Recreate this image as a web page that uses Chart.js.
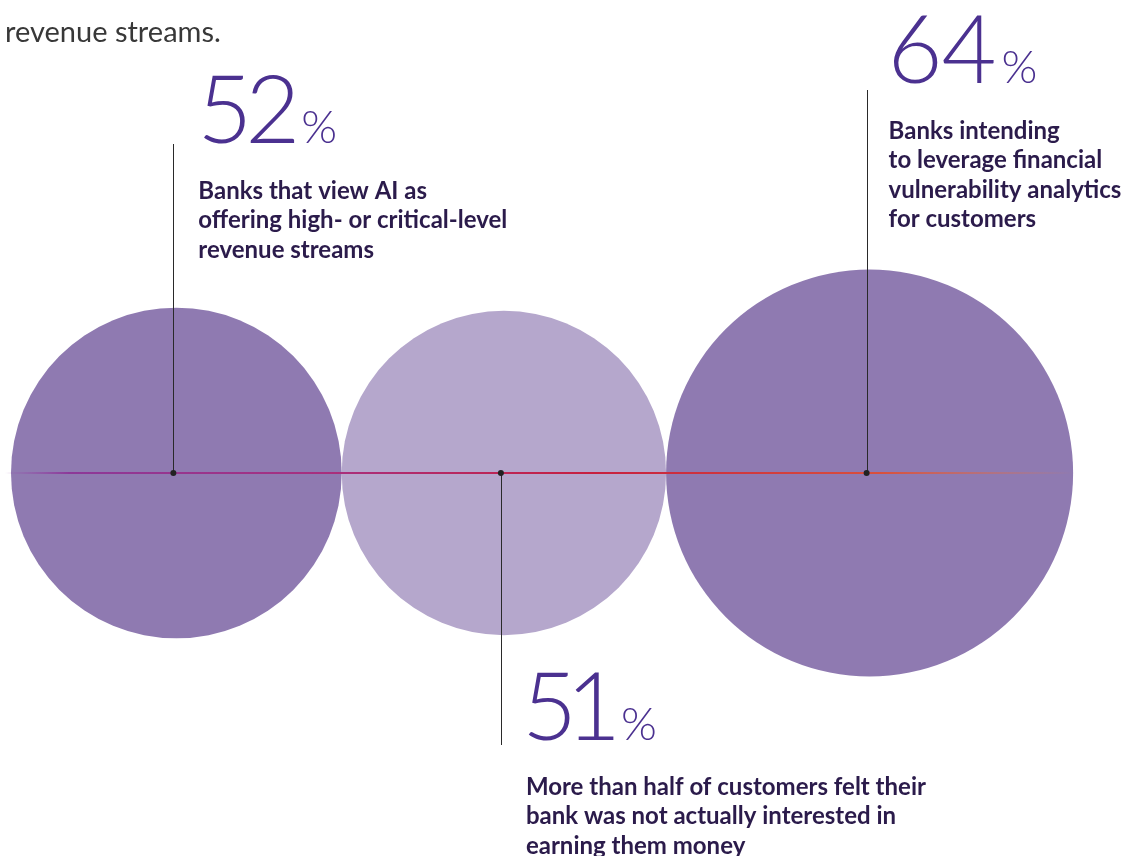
<!DOCTYPE html>
<html>
<head>
<meta charset="utf-8">
<title>Banks and AI revenue</title>
<script src="https://cdn.jsdelivr.net/npm/chart.js@4.4.1/dist/chart.umd.min.js"></script>
<style>
  html, body { margin: 0; padding: 0; background: #fff; }
  #wrap { position: relative; width: 1125px; height: 856px; }
</style>
</head>
<body>
<div id="wrap"><canvas id="bubbles"></canvas></div>
<script>
// ─── Data ─────────────────────────────────────────────────────────────────────
const values = [52, 51, 64];               // percent
const captions = [
  ['Banks that view AI as', 'offering high- or critical-level', 'revenue streams'],
  ['More than half of customers felt their', 'bank was not actually interested in', 'earning them money'],
  ['Banks intending', 'to leverage financial', 'vulnerability analytics', 'for customers'],
];
const headerLines = ['revenue streams.'];

// ─── Layout (pixels) ──────────────────────────────────────────────────────────
const W = 1125, H = 856;
const PX_PER_PCT = 3.18;    // bubble radius per percentage point
const ROW_Y = 473;          // horizontal axis of the bubbles
const LEFT = 11;            // left edge of the first bubble
const ANCHOR_SHIFT = -3;    // leader lines sit a bit left of centre
const callouts = [
  { lineEnd: 144, numY: 143, capY: 199, numDx: 30, capDx: 25 },
  { lineEnd: 745, numY: 740, capY: 795, numDx: 27, capDx: 25 },
  { lineEnd: 90,  numY: 83,  capY: 139, numDx: 27, capDx: 22 },
];
const fills = ['#8F7AB1', '#B5A7CC', '#8F7AB1'];

// bubble centres: each one tangent to the previous
const radii = values.map(v => v * PX_PER_PCT);
const centres = [];
radii.forEach((r, i) => {
  centres.push(i === 0 ? LEFT + r : centres[i - 1] + radii[i - 1] + r);
});

// draw a string glyph by glyph on its ink box (proportional digits)
function drawTight(ctx, text, x, y, gap) {
  for (const ch of text) {
    const m = ctx.measureText(ch);
    ctx.fillText(ch, x + m.actualBoundingBoxLeft, y);
    x += m.actualBoundingBoxLeft + m.actualBoundingBoxRight + gap;
  }
  return x;
}

// ─── Plugins ──────────────────────────────────────────────────────────────────
const leaderPlugin = {
  id: 'leaders',
  afterDatasetDraw(chart, args) {
    if (args.index !== 0) return;
    const { ctx, scales: { x, y } } = chart;
    const yPix = y.getPixelForValue(ROW_Y);
    const x0 = x.getPixelForValue(centres[0] - radii[0]) - 6;
    const last = centres.length - 1;
    const x1 = x.getPixelForValue(centres[last] + radii[last]);

    // gradient baseline
    const g = ctx.createLinearGradient(x0, 0, x1, 0);
    g.addColorStop(0, 'rgba(150,70,170,0)');
    g.addColorStop(0.06, 'rgba(140,50,150,0.9)');
    g.addColorStop(0.3, '#A8307E');
    g.addColorStop(0.55, '#C7203F');
    g.addColorStop(0.82, '#D9503C');
    g.addColorStop(1, 'rgba(230,120,70,0)');
    ctx.save();
    ctx.strokeStyle = g;
    ctx.lineWidth = 2;
    ctx.beginPath();
    ctx.moveTo(x0, yPix);
    ctx.lineTo(x1, yPix);
    ctx.stroke();

    // vertical leader lines
    ctx.strokeStyle = '#2a2a2a';
    ctx.lineWidth = 1;
    centres.forEach((c, i) => {
      const px = Math.round(x.getPixelForValue(c + ANCHOR_SHIFT)) + 0.5;
      ctx.beginPath();
      ctx.moveTo(px, yPix);
      ctx.lineTo(px, y.getPixelForValue(callouts[i].lineEnd));
      ctx.stroke();
    });
    ctx.restore();
  },
  afterDraw(chart) {
    const { ctx, scales: { x, y } } = chart;
    ctx.save();
    ctx.textBaseline = 'alphabetic';
    ctx.textAlign = 'left';

    // header fragment
    ctx.fillStyle = '#383838';
    ctx.font = '400 29px Lato';
    headerLines.forEach((t, i) => ctx.fillText(t, 5, 42 + i * 36));

    values.forEach((v, i) => {
      const c = callouts[i];
      const ax = x.getPixelForValue(centres[i] + ANCHOR_SHIFT);
      // big number
      ctx.fillStyle = '#4B3190';
      ctx.font = '300 95px Lato';
      const ny = y.getPixelForValue(c.numY);
      const after = drawTight(ctx, String(v), ax + c.numDx, ny, 5);
      ctx.font = '300 46px Lato';
      drawTight(ctx, '%', after + 4, ny, 0);
      // caption
      ctx.fillStyle = '#2B1B4B';
      ctx.font = '700 24px Lato';
      captions[i].forEach((line, j) => {
        ctx.fillText(line, ax + c.capDx, y.getPixelForValue(c.capY) + j * 29.3);
      });
    });
    ctx.restore();
  },
};

// ─── Chart ────────────────────────────────────────────────────────────────────
function build() {
  new Chart(document.getElementById('bubbles'), {
    type: 'bubble',
    data: {
      datasets: [
        {
          label: 'Share',
          data: values.map((v, i) => ({ x: centres[i], y: ROW_Y, r: radii[i] })),
          backgroundColor: fills,
          borderWidth: 0,
          hoverRadius: 0,
          clip: false,
          order: 2,
        },
        {
          label: 'Anchors',
          data: values.map((v, i) => ({ x: centres[i] + ANCHOR_SHIFT, y: ROW_Y, r: 3 })),
          backgroundColor: '#222222',
          borderWidth: 0,
          hoverRadius: 0,
          clip: false,
          order: 1,
        },
      ],
    },
    options: {
      responsive: true,
      maintainAspectRatio: false,
      animation: false,
      events: [],
      layout: { padding: 0, autoPadding: false },
      plugins: { legend: { display: false }, tooltip: { enabled: false } },
      scales: {
        x: { type: 'linear', display: false, min: 0, max: W },
        y: { type: 'linear', display: false, min: 0, max: H, reverse: true },
      },
    },
    plugins: [leaderPlugin],
  });
}

document.fonts.load('700 24px Lato').then(() => document.fonts.load('300 95px Lato')).then(build, build);
</script>
</body>
</html>
